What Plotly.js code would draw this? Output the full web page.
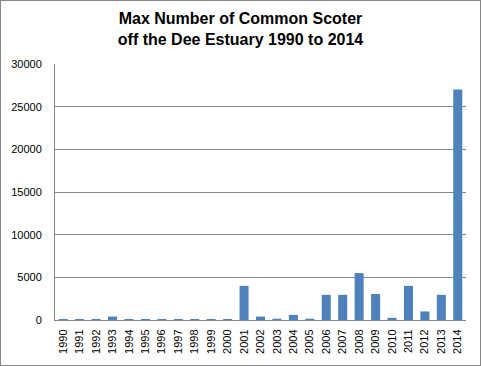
<!DOCTYPE html>
<html>
<head>
<meta charset="utf-8">
<script src="https://cdn.plot.ly/plotly-3.0.1.min.js"></script>
<style>
html,body{margin:0;padding:0;background:#fff;}
#wrap{position:relative;width:481px;height:366px;}
#chart{width:481px;height:366px;}
#frame{position:absolute;left:0;top:0;width:479px;height:364px;border:1px solid #868686;pointer-events:none;}
</style>
</head>
<body>
<div id="wrap"><div id="chart"></div><div id="frame"></div></div>
<script>
const years = ["1990","1991","1992","1993","1994","1995","1996","1997","1998","1999","2000","2001","2002","2003","2004","2005","2006","2007","2008","2009","2010","2011","2012","2013","2014"];
const counts = [120,120,120,400,120,120,120,120,120,120,120,4000,400,150,600,150,2950,2950,5500,3050,250,4000,1000,2950,27000];
const yTicks = [0,5000,10000,15000,20000,25000,30000];

Plotly.newPlot('chart', [{
  type: 'bar',
  x: years,
  y: counts,
  marker: {color: '#4f81bd'},
  hoverinfo: 'none'
}], {
  width: 481, height: 366,
  margin: {l: 55, r: 15, t: 64, b: 46},
  paper_bgcolor: '#fff', plot_bgcolor: '#fff',
  bargap: 0.45,
  showlegend: false,
  title: {
    text: '<b>Max Number of Common Scoter<br>off the Dee Estuary 1990 to 2014</b>',
    font: {family: 'Liberation Sans, Arial, sans-serif', size: 16, color: '#000'},
    x: 0.5, xanchor: 'center', y: 0.935, yanchor: 'top'
  },
  xaxis: {
    type: 'category',
    tickangle: -90,
    tickfont: {family: 'Liberation Sans, Arial, sans-serif', size: 11, color: '#000'},
    showline: true, linecolor: '#868686', linewidth: 1,
    ticks: '', ticklabelstandoff: 4,
    showgrid: false, zeroline: false
  },
  yaxis: {
    range: [0, 30000],
    tickvals: yTicks,
    ticktext: yTicks.map(String),
    tickfont: {family: 'Liberation Sans, Arial, sans-serif', size: 11, color: '#000'},
    showline: true, linecolor: '#868686', linewidth: 1,
    ticks: '', ticklabelstandoff: 10,
    showgrid: true, gridcolor: '#868686', gridwidth: 1,
    zeroline: false
  }
}, {staticPlot: true});
</script>
</body>
</html>
